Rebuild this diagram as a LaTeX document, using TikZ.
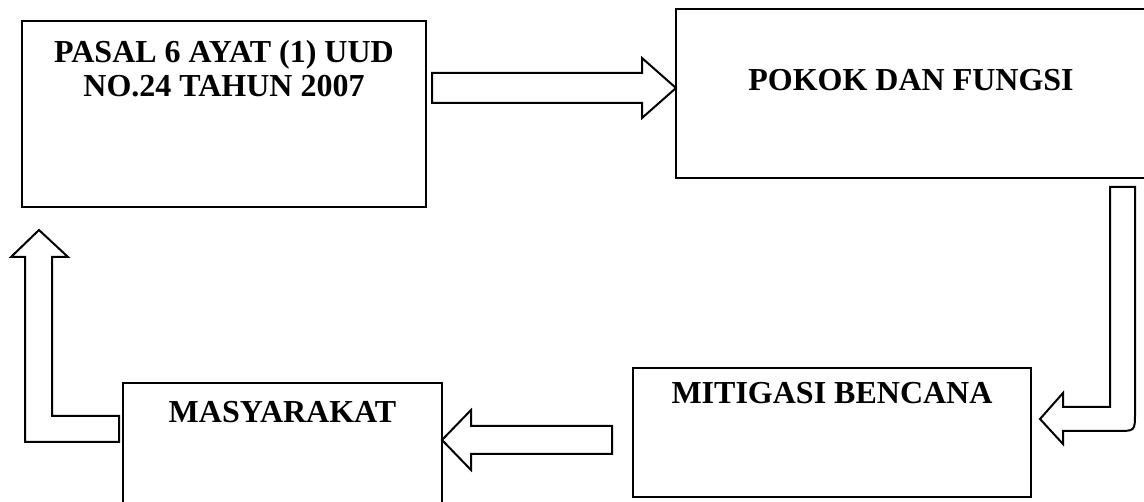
\documentclass[tikz,border=0pt]{standalone}
\usepackage{fontspec}
\setmainfont{Liberation Serif}
\usetikzlibrary{calc, positioning}

\begin{document}
\begin{tikzpicture}[x=1pt, y=-1pt,
    box/.style={draw=black, line width=2.2pt, inner sep=0pt, outer sep=0pt},
    lbl/.style={font=\bfseries\fontsize{32}{34}\selectfont, inner sep=0pt, align=center},
    barrow/.style={draw=black, line width=2pt, fill=white, line join=miter}]
  \useasboundingbox (0,0) rectangle (1144,502);
  % Boxes
  \node[box, minimum width=404pt, minimum height=186pt] (pasal) at (224,114) {};
  \node[box, minimum width=470pt, minimum height=169pt] (pokok) at (911,93.5) {};
  \node[box, minimum width=398pt, minimum height=129pt] (mitigasi) at (832,432.5) {};
  \node[box, minimum width=319pt, minimum height=122pt] (masyarakat) at (282.5,444) {};
  % Labels
  \node[lbl, anchor=base] (pasal text) at ($(pasal.north)+(0,76)$) {PASAL 6 AYAT (1) UUD\\NO.24 TAHUN 2007};
  \node[lbl, anchor=base] (pokok text) at ($(pokok.north)+(0,82)$) {POKOK DAN FUNGSI};
  \node[lbl, anchor=base] (mitigasi text) at ($(mitigasi.north)+(0,36)$) {MITIGASI BENCANA};
  \node[lbl, anchor=base] (masyarakat text) at ($(masyarakat.north)+(0,40)$) {MASYARAKAT};
  % Arrow ends
  \coordinate (a1 tail) at ($(pasal.east)+(6,-26)$);
  \coordinate (a1 tip) at (pokok.west |- a1 tail);
  \coordinate (a2 top) at ($(pokok.south east)+(-23.5,9)$);
  \coordinate (a2 tip) at ($(mitigasi.east)+(9,-13.5)$);
  \coordinate (a3 tip) at ($(pasal.south west)+(17,23)$);
  \coordinate (a3 end) at ($(masyarakat.west)+(-4,-15)$);
  \coordinate (a4 tail) at ($(mitigasi.west)+(-21,7.5)$);
  \coordinate (a4 tip) at (masyarakat.east |- a4 tail);
  % Pasal to pokok
  \draw[barrow] ($(a1 tail)+(0,-15)$) -- ($(a1 tip)+(-34,-15)$) -- ($(a1 tip)+(-34,-30)$) -- (a1 tip)
    -- ($(a1 tip)+(-34,30)$) -- ($(a1 tip)+(-34,15)$) -- ($(a1 tail)+(0,15)$) -- cycle;
  % Pokok to mitigasi
  \draw[barrow] ($(a2 top)+(-12.5,0)$) |- ($(a2 tip)+(23,-12)$) -- ($(a2 tip)+(23,-26)$) -- (a2 tip)
    -- ($(a2 tip)+(23,25)$) -- ($(a2 tip)+(23,12)$) -- ($(a2 tip)+(77,12)$)
    .. controls ($(a2 tip)+(95,12)$) .. ($(a2 tip)+(95,-6)$) -- ($(a2 top)+(12.5,0)$) -- cycle;
  % Mitigasi to masyarakat
  \draw[barrow] ($(a4 tail)+(0,-14)$) -- ($(a4 tip)+(29,-14)$) -- ($(a4 tip)+(29,-30)$) -- (a4 tip)
    -- ($(a4 tip)+(29,30)$) -- ($(a4 tip)+(29,14)$) -- ($(a4 tail)+(0,14)$) -- cycle;
  % Masyarakat to pasal
  \draw[barrow] ($(a3 tip)+(13,27)$) -- ($(a3 tip)+(29,27)$) -- (a3 tip) -- ($(a3 tip)+(-28,27)$)
    -- ($(a3 tip)+(-14,27)$) -- ($(a3 tip)+(-14,212)$) -- ($(a3 end)+(0,13)$) -- ($(a3 end)+(0,-13)$)
    -- ($(a3 tip)+(13,186)$) -- cycle;
\end{tikzpicture}
\end{document}
